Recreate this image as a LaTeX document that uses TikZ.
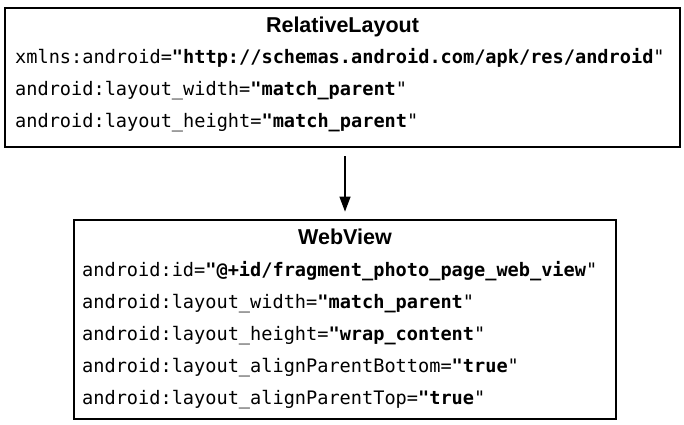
\documentclass[tikz,border=0pt]{standalone}
\usepackage{fontspec}
\setmonofont{DejaVu Sans Mono}
\newfontfamily\titlefont{Liberation Sans}
\usetikzlibrary{arrows.meta, positioning, fit}

\begin{document}
\begin{tikzpicture}[
        x=1pt, y=-1pt,
        frame/.style={rectangle, draw=black, line width=2.8pt, inner sep=0pt},
        title/.style={font=\titlefont\bfseries\fontsize{21.5}{25}\selectfont, anchor=base, inner sep=0pt},
        code/.style={font=\ttfamily\fontsize{18.6}{22}\selectfont, anchor=base west, inner sep=0pt},
        arrow/.style={-{Triangle[length=15pt, width=11pt]}, line width=1.3pt, black}
    ]
    \useasboundingbox (0,0) rectangle (684,424);

    % Parent: RelativeLayout
    \node[frame, fit={(5,8) (680,147)}] (rl) {};
    \node[title] (rl_t) at (342.5,32.5) {RelativeLayout};
    \foreach \txt [count=\i] in {
        {xmlns:android=\textbf{"http://schemas.android.com/apk/res/android}"},
        {android:layout\_width=\textbf{"match\_parent}"},
        {android:layout\_height=\textbf{"match\_parent}"}}
        \node[code] (rl_\i) at (15,{63+32*(\i-1)}) {\txt};

    % Child: WebView
    \node[frame, fit={(74,220) (616,419)}] (wv) {};
    \node[title] (wv_t) at (345,244.5) {WebView};
    \foreach \txt [count=\i] in {
        {android:id=\textbf{"@+id/fragment\_photo\_page\_web\_view}"},
        {android:layout\_width=\textbf{"match\_parent}"},
        {android:layout\_height=\textbf{"wrap\_content}"},
        {android:layout\_alignParentBottom=\textbf{"true}"},
        {android:layout\_alignParentTop=\textbf{"true}"}}
        \node[code] (wv_\i) at (82,{276.5+32*(\i-1)}) {\txt};

    % Parent -> child
    \draw[arrow, shorten <=8pt, shorten >=7pt] (rl.south -| wv.north) -- (wv.north);

\end{tikzpicture}
\end{document}
